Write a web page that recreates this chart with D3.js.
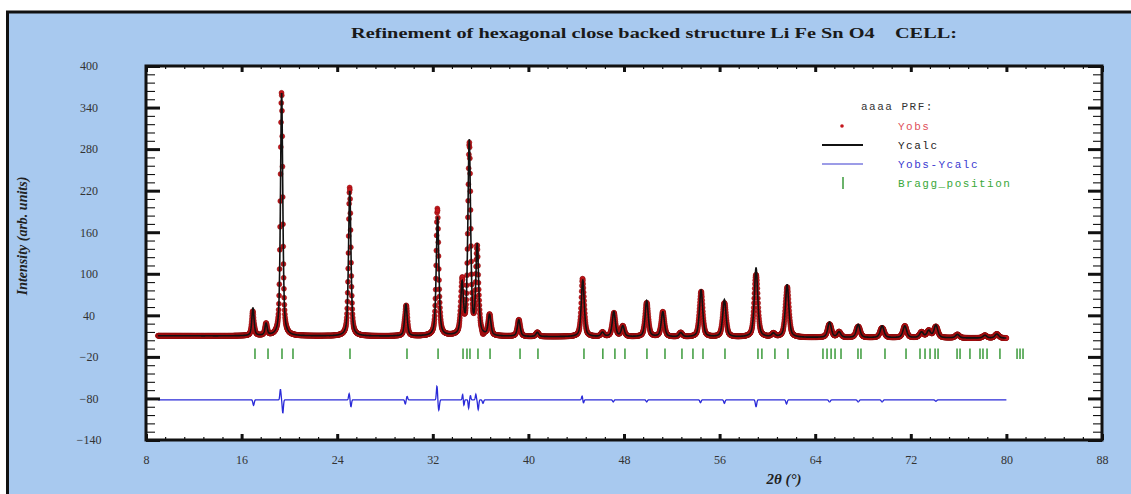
<!DOCTYPE html>
<html>
<head>
<meta charset="utf-8">
<script src="https://cdn.jsdelivr.net/npm/d3@7"></script>
<style>
  html, body { margin: 0; padding: 0; background: #ffffff; }
  svg { display: block; }
</style>
</head>
<body>
<svg id="chart" width="1131" height="494"></svg>
<script>
// ---- axis ticks ----
const xTicks = [8, 16, 24, 32, 40, 48, 56, 64, 72, 80, 88];
const yTicks = [400, 340, 280, 220, 160, 100, 40, -20, -80, -140];

// ---- measured scan range (degrees 2θ) ----
const scanStart = 9.0;
const scanEnd = 80.0;
const scanStep = 0.02;

// ---- background level along the scan ----
const bgAngle = [9, 30, 55, 80];
const bgLevel = [10.5, 10, 8.5, 7];

// ---- reflections of the calculated pattern: position and height above background ----
const peakPos = [16.95, 18.05, 19.35, 25.05, 29.75, 32.4, 34.45, 35.05, 35.72, 36.75,
                 39.2, 40.75, 44.55, 46.2, 47.15, 47.9, 49.9, 51.25, 52.75, 54.45,
                 56.4, 59.05, 60.5, 61.65, 65.2, 66.0, 67.6, 69.6, 71.5, 72.9,
                 73.5, 74.1, 75.9, 78.2, 79.2];
const peakHeight = [40, 17, 352, 210, 46, 172, 72, 280, 128, 30,
                    24, 6, 82, 6, 36, 15, 52, 36, 6, 68,
                    54, 100, 5, 76, 22, 8, 19, 17, 17, 8,
                    10, 18, 5, 4, 6];

// ---- residual features (Yobs - Ycalc): position, amplitude, width ----
const diffPos = [17.0, 19.25, 19.45, 25.0, 25.15, 29.7, 29.85, 32.35, 32.5, 34.5,
                 34.6, 35.0, 35.15, 35.6, 35.8, 36.2, 44.5, 44.6, 47.1, 49.9,
                 54.4, 56.4, 59.05, 61.6, 65.2, 67.6, 69.6, 74.1];
const diffAmp = [-8, 15, -19, 9, -10, -6, 5, 20, -15, 8,
                 -8, -12, 6, 8, -14, -5, 6, -5, -3, -3,
                 -4, -5, -10, -6, -3, -3, -3, -2];
const diffWidth = [0.08, 0.07, 0.07, 0.07, 0.07, 0.07, 0.07, 0.07, 0.08, 0.06,
                   0.06, 0.06, 0.06, 0.06, 0.07, 0.08, 0.07, 0.07, 0.08, 0.08,
                   0.08, 0.08, 0.08, 0.08, 0.1, 0.1, 0.1, 0.1];
const diffOffset = -82;

// ---- Bragg reflection positions ----
const braggPos = [17.12, 18.21, 19.38, 20.30, 25.07, 29.84, 32.44, 34.53, 34.86, 35.11,
                  35.78, 36.79, 39.30, 40.80, 44.65, 46.23, 47.24, 48.08, 49.92, 51.43,
                  52.85, 53.77, 54.61, 56.45, 59.21, 59.54, 60.63, 61.72, 64.65, 64.99,
                  65.33, 65.66, 66.16, 67.58, 67.83, 69.84, 71.60, 72.77, 73.19, 73.61,
                  74.03, 74.28, 75.87, 76.12, 76.95, 77.79, 78.04, 78.38, 79.46, 80.89,
                  81.14, 81.39];
const braggTop = -8;
const braggBottom = -23;

// ---- legend entries ----
const legendHeader = "aaaa PRF:";
const legendLabels = ["Yobs", "Ycalc", "Yobs-Ycalc", "Bragg_position"];
const legendColors = ["#e0505a", "#222222", "#3a3ad0", "#3aa83a"];

const svg = d3.select("#chart");
const W = 1131, H = 494;
const plot = { left: 146, right: 1102, top: 66, bottom: 440 };

// page panel
svg.append("rect").attr("x", 6).attr("y", 12).attr("width", W - 6).attr("height", H - 12)
  .attr("fill", "#a8c9ef");
svg.append("line").attr("x1", 6).attr("x2", W).attr("y1", 12).attr("y2", 12)
  .attr("stroke", "#111").attr("stroke-width", 3);
svg.append("line").attr("x1", 7.5).attr("x2", 7.5).attr("y1", 11).attr("y2", H)
  .attr("stroke", "#111").attr("stroke-width", 3);

// title
svg.append("text")
  .attr("x", 654).attr("y", 38)
  .attr("text-anchor", "middle")
  .attr("font-family", "Liberation Serif, serif")
  .attr("font-weight", "bold")
  .attr("font-size", 15)
  .attr("fill", "#1a1a1a")
  .attr("textLength", 606)
  .attr("lengthAdjust", "spacingAndGlyphs")
  .style("white-space", "pre")
  .text("Refinement of hexagonal close backed structure Li Fe Sn O4    CELL:");

// plot area
svg.append("rect")
  .attr("x", plot.left).attr("y", plot.top)
  .attr("width", plot.right - plot.left).attr("height", plot.bottom - plot.top)
  .attr("fill", "#ffffff");

const x = d3.scaleLinear().domain([8, 88]).range([plot.left, plot.right]);
const y = d3.scaleLinear().domain([-140, 400]).range([plot.bottom, plot.top]);
const bg = d3.scaleLinear().domain(bgAngle).range(bgLevel).clamp(true);

// pseudo-Voigt reflection profile, width growing with angle
function fwhm(tt) { return 0.17 + 0.0028 * tt; }
function pv(dx, h) {
  const g = Math.exp(-4 * Math.LN2 * (dx / h) * (dx / h));
  const l = 1 / (1 + 4 * (dx / h) * (dx / h));
  return 0.45 * g + 0.55 * l;
}
function ycalc(tt) {
  let s = bg(tt);
  for (let i = 0; i < peakPos.length; i++) {
    const d = tt - peakPos[i];
    if (Math.abs(d) < 4) s += peakHeight[i] * pv(d, fwhm(peakPos[i]));
  }
  return s;
}
function residual(tt) {
  let s = 0;
  for (let i = 0; i < diffPos.length; i++) {
    const d = (tt - diffPos[i]) / diffWidth[i];
    if (Math.abs(d) < 6) s += diffAmp[i] * Math.exp(-d * d);
  }
  return s;
}

const angles = d3.range(scanStart, scanEnd + scanStep / 2, scanStep);
const pattern = angles.map(tt => {
  const c = ycalc(tt);
  const r = residual(tt);
  return { tt, calc: c, obs: c + r, diff: r + diffOffset };
});

const clip = svg.append("defs").append("clipPath").attr("id", "plotClip");
clip.append("rect").attr("x", plot.left).attr("y", plot.top)
  .attr("width", plot.right - plot.left).attr("height", plot.bottom - plot.top);
const g = svg.append("g").attr("clip-path", "url(#plotClip)");

// Yobs points
g.append("g").selectAll("circle").data(pattern).join("circle")
  .attr("cx", d => x(d.tt)).attr("cy", d => y(d.obs))
  .attr("r", 2.5)
  .attr("fill", "#c4161c")
  .attr("stroke", "#8a0c0c")
  .attr("stroke-width", 0.5);

// Ycalc line
g.append("path").datum(pattern)
  .attr("fill", "none").attr("stroke", "#111").attr("stroke-width", 1.6)
  .attr("d", d3.line().x(d => x(d.tt)).y(d => y(d.calc)));

// difference line
g.append("path").datum(pattern)
  .attr("fill", "none").attr("stroke", "#2a2ad8").attr("stroke-width", 1.3)
  .attr("d", d3.line().x(d => x(d.tt)).y(d => y(d.diff)));

// Bragg positions
g.append("g").selectAll("line").data(braggPos).join("line")
  .attr("x1", d => x(d)).attr("x2", d => x(d))
  .attr("y1", y(braggTop)).attr("y2", y(braggBottom))
  .attr("stroke", "#3a9a3a").attr("stroke-width", 1.5);

// ---- axes: major and minor ticks pointing inward on all sides ----
const xMinor = d3.range(8, 88.01, 1.6).filter(v => !xTicks.some(t => Math.abs(t - v) < 1e-6));
const yMinor = d3.range(-140, 400.01, 12).filter(v => !yTicks.some(t => Math.abs(t - v) < 1e-6));

function styleAxis(sel, width) {
  sel.select(".domain").remove();
  sel.selectAll(".tick line").attr("stroke", "#111").attr("stroke-width", width);
}

// minor ticks
svg.append("g").attr("transform", `translate(0,${plot.bottom})`)
  .call(d3.axisBottom(x).tickValues(xMinor).tickSize(-3).tickFormat(""))
  .call(s => styleAxis(s, 1.2));
svg.append("g").attr("transform", `translate(0,${plot.top})`)
  .call(d3.axisTop(x).tickValues(xMinor).tickSize(-3).tickFormat(""))
  .call(s => styleAxis(s, 1.2));
svg.append("g").attr("transform", `translate(${plot.left},0)`)
  .call(d3.axisLeft(y).tickValues(yMinor).tickSize(-9).tickFormat(""))
  .call(s => styleAxis(s, 1.1));
svg.append("g").attr("transform", `translate(${plot.right},0)`)
  .call(d3.axisRight(y).tickValues(yMinor).tickSize(-9).tickFormat(""))
  .call(s => styleAxis(s, 1.1));

// major ticks
const labelFont = "Liberation Serif, serif";
svg.append("g").attr("transform", `translate(0,${plot.bottom})`)
  .call(d3.axisBottom(x).tickValues(xTicks).tickSize(-6).tickFormat(d3.format("d")))
  .call(s => {
    styleAxis(s, 3);
    s.selectAll("text").attr("y", 24).attr("dy", 0)
      .attr("font-family", labelFont).attr("font-size", 12).attr("fill", "#333");
  });
svg.append("g").attr("transform", `translate(0,${plot.top})`)
  .call(d3.axisTop(x).tickValues(xTicks).tickSize(-6).tickFormat(""))
  .call(s => styleAxis(s, 3));
svg.append("g").attr("transform", `translate(${plot.left},0)`)
  .call(d3.axisLeft(y).tickValues(yTicks).tickSize(-14).tickFormat(d3.format("d")))
  .call(s => {
    styleAxis(s, 3);
    s.selectAll("text").attr("x", 89 - plot.left).attr("text-anchor", "middle")
      .attr("font-family", labelFont).attr("font-size", 12).attr("fill", "#333");
  });
svg.append("g").attr("transform", `translate(${plot.right},0)`)
  .call(d3.axisRight(y).tickValues(yTicks).tickSize(-14).tickFormat(""))
  .call(s => styleAxis(s, 3));

// frame
svg.append("rect")
  .attr("x", plot.left).attr("y", plot.top)
  .attr("width", plot.right - plot.left).attr("height", plot.bottom - plot.top)
  .attr("fill", "none").attr("stroke", "#111").attr("stroke-width", 3);

// axis titles
svg.append("text")
  .attr("transform", "translate(27,236) rotate(-90)")
  .attr("text-anchor", "middle")
  .attr("font-family", labelFont).attr("font-weight", "bold").attr("font-style", "italic")
  .attr("font-size", 14).attr("fill", "#222")
  .text("Intensity (arb. units)");
svg.append("text")
  .attr("x", 784).attr("y", 484)
  .attr("text-anchor", "middle")
  .attr("font-family", labelFont).attr("font-weight", "bold").attr("font-style", "italic")
  .attr("font-size", 15).attr("fill", "#222")
  .text("2θ (°)");

// ---- legend ----
const lg = svg.append("g").attr("font-family", "Liberation Mono, monospace")
  .attr("font-size", 11).attr("letter-spacing", 1.5);
const rowY = [126, 145, 164, 183];
lg.append("text").attr("x", 861).attr("y", 110).attr("fill", "#333").text(legendHeader);
legendLabels.forEach((lab, i) => {
  lg.append("text").attr("x", 898).attr("y", rowY[i] + 4).attr("fill", legendColors[i]).text(lab);
});
lg.append("circle").attr("cx", 842).attr("cy", rowY[0]).attr("r", 1.8).attr("fill", "#c4161c");
lg.append("line").attr("x1", 822).attr("x2", 863).attr("y1", rowY[1]).attr("y2", rowY[1])
  .attr("stroke", "#111").attr("stroke-width", 2);
lg.append("line").attr("x1", 822).attr("x2", 863).attr("y1", rowY[2]).attr("y2", rowY[2])
  .attr("stroke", "#3a3ad0").attr("stroke-width", 1.2);
lg.append("line").attr("x1", 843).attr("x2", 843).attr("y1", rowY[3] - 6).attr("y2", rowY[3] + 6)
  .attr("stroke", "#3a9a3a").attr("stroke-width", 1.5);
</script>
</body>
</html>
